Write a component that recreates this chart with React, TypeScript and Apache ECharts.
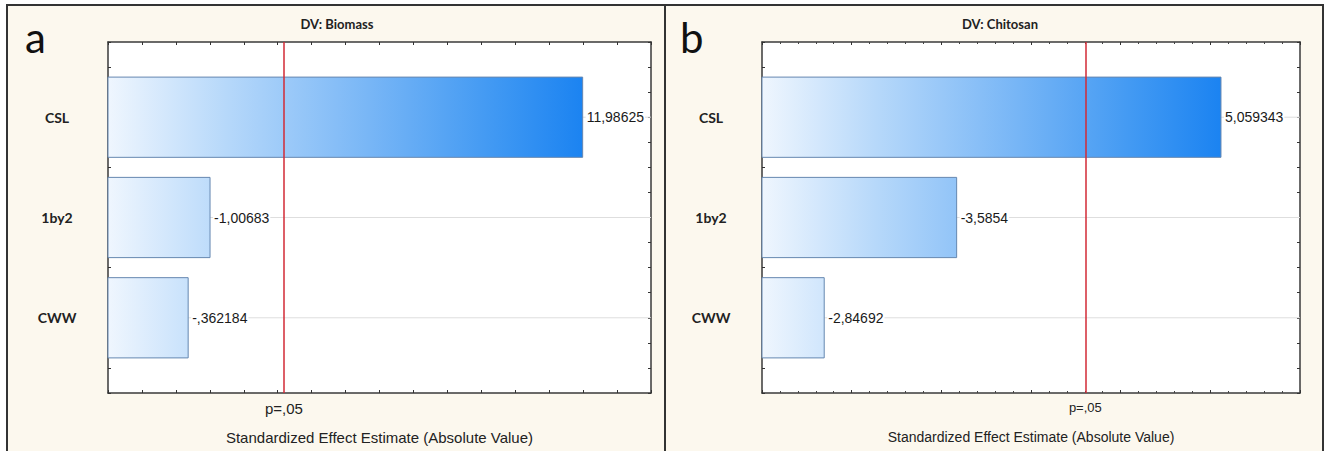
import React, { useEffect, useRef } from 'react';
import * as echarts from 'echarts';

// ---- data ----
const categories = ['CSL', '1by2', 'CWW'];
const biomassEffects = [11.98625, -1.00683, -0.362184];
const chitosanEffects = [5.059343, -3.5854, -2.84692];
const biomassCritical = 3.182; // t critical, p = .05
const chitosanCritical = 4.303;
const biomassRange = [-2, 14, 1];
const chitosanRange = [2.5, 5.5, 0.5];
const panelTitles = ['DV: Biomass', 'DV: Chitosan'];
const panelLetters = ['a', 'b'];
const axisTitle = 'Standardized Effect Estimate (Absolute Value)';
const criticalLabel = 'p=,05';

const fmt = (v: number) => String(v).replace(/^(-?)0\./, '$1.').replace('.', ',');

const gradStops = [
  { offset: 0, color: '#eff6fe' },
  { offset: 0.25, color: '#b6d8fa' },
  { offset: 0.55, color: '#78b6f6' },
  { offset: 0.8, color: '#439af3' },
  { offset: 1, color: '#1b83f1' },
];

const Y_MIN = -0.75;
const Y_MAX = 2.75;

function makeSeries(values: number[], xMin: number, crit: number, idx: number, labelSize: number) {
  const maxAbs = Math.max(...values.map((v) => Math.abs(v)));
  return {
    type: 'custom',
    xAxisIndex: idx * 2,
    yAxisIndex: idx * 2,
    data: values.map((v, i) => [Math.abs(v), i]),
    encode: { x: 0, y: 1 },
    renderItem: (params: any, api: any) => {
      const val = api.value(0);
      const i = api.value(1);
      const raw = params.dataIndex;
      const start = api.coord([xMin, i]);
      const end = api.coord([val, i]);
      const gEnd = api.coord([maxAbs, i]);
      const h = api.size([0, 0.8])[1];
      const cs = params.coordSys;
      const grad = new echarts.graphic.LinearGradient(start[0], 0, gEnd[0], 0, gradStops, true);
      return {
        type: 'group',
        children: [
          {
            type: 'line',
            shape: { x1: cs.x, y1: end[1], x2: cs.x + cs.width, y2: end[1] },
            style: { stroke: '#dedede', lineWidth: 1 },
          },
          {
            type: 'rect',
            shape: { x: start[0], y: end[1] - h / 2, width: end[0] - start[0], height: h },
            style: { fill: grad, stroke: '#6587b0', lineWidth: 1 },
          },
          {
            type: 'text',
            x: end[0] + 3,
            y: end[1],
            style: {
              text: fmt(values[raw]),
              fill: '#1a1a1a',
              fontSize: labelSize,
              fontFamily: 'Liberation Sans, Arial, sans-serif',
              align: 'left',
              verticalAlign: 'middle',
              backgroundColor: '#ffffff',
              padding: [0, 1],
            },
          },
        ],
      };
    },
    markLine: {
      silent: true,
      animation: false,
      symbol: ['none', 'none'],
      lineStyle: { color: '#d22a36', width: 1.5, type: 'solid' },
      label: {
        show: true,
        position: 'start',
        formatter: criticalLabel,
        color: '#222',
        fontSize: idx === 0 ? 15 : 13,
        fontFamily: 'Liberation Sans, Arial, sans-serif',
        distance: 8,
      },
      data: [[{ coord: [crit, Y_MAX] }, { coord: [crit, Y_MIN] }]],
    },
  };
}

function xAxes(range: number[], grid: number, nameSize: number, minor: boolean) {
  const common = {
    type: 'value',
    gridIndex: grid,
    min: range[0],
    max: range[1],
    interval: range[2],
    axisLine: { show: true, onZero: false, lineStyle: { color: '#3a3a3a', width: 1.5 } },
    axisTick: { show: true, inside: true, length: 3, lineStyle: { color: '#333', width: 1 } },
    minorTick: { show: minor, splitNumber: 5, length: 2, lineStyle: { color: '#444' } },
    axisLabel: { show: false },
    splitLine: { show: false },
    minorSplitLine: { show: false },
  };
  return [
    {
      ...common,
      position: 'bottom',
      name: axisTitle,
      nameLocation: 'middle',
      nameGap: 37,
      nameTextStyle: { color: '#222', fontSize: nameSize, fontFamily: 'Liberation Sans, Arial, sans-serif' },
    },
    { ...common, position: 'top' },
  ];
}

function yAxes(grid: number) {
  const common = {
    type: 'value',
    gridIndex: grid,
    inverse: true,
    min: Y_MIN,
    max: Y_MAX,
    interval: 0.25,
    axisLine: { show: true, onZero: false, lineStyle: { color: '#3a3a3a', width: 1.5 } },
    axisTick: { show: true, inside: true, length: 3, lineStyle: { color: '#333', width: 1 } },
    splitLine: { show: false },
  };
  return [
    {
      ...common,
      position: 'left',
      axisLabel: {
        show: true,
        showMinLabel: true,
        showMaxLabel: true,
        formatter: (v: number) => (Number.isInteger(v) && v >= 0 && v < categories.length ? categories[v] : ''),
        color: '#222',
        fontWeight: 'bold',
        fontSize: 14,
        fontFamily: 'Lato, Open Sans, sans-serif',
        align: 'center',
        margin: 51,
      },
    },
    { ...common, position: 'right', axisLabel: { show: false } },
  ];
}

export default function App() {
  const ref = useRef<HTMLDivElement>(null);
  useEffect(() => {
    if (!ref.current) return;
    const chart = echarts.init(ref.current, undefined, { renderer: 'svg' });
    const option: any = {
      animation: false,
      backgroundColor: '#ffffff',
      grid: [
        { left: 108, top: 42, width: 543, height: 351, outerBoundsMode: 'none', containLabel: false, show: true, backgroundColor: '#ffffff', borderWidth: 0 },
        { left: 762, top: 42, width: 538, height: 351, outerBoundsMode: 'none', containLabel: false, show: true, backgroundColor: '#ffffff', borderWidth: 0 },
      ],
      xAxis: [...xAxes(biomassRange, 0, 15, false), ...xAxes(chitosanRange, 1, 14, true)],
      yAxis: [...yAxes(0), ...yAxes(1)],
      series: [
        makeSeries(biomassEffects, biomassRange[0], biomassCritical, 0, 14),
        makeSeries(chitosanEffects, chitosanRange[0], chitosanCritical, 1, 14),
      ],
      graphic: [
        {
          type: 'rect',
          z: -10,
          shape: { x: 7, y: 5, width: 658, height: 460 },
          style: { fill: '#fcf8ee', stroke: '#333', lineWidth: 2 },
        },
        {
          type: 'rect',
          z: -10,
          shape: { x: 665, y: 5, width: 658, height: 460 },
          style: { fill: '#fcf8ee', stroke: '#333', lineWidth: 2 },
        },
        {
          type: 'text',
          x: 25,
          y: 37,
          style: { text: panelLetters[0], fill: '#111', fontSize: 42, fontFamily: 'Lato, Open Sans, sans-serif', verticalAlign: 'middle' },
        },
        {
          type: 'text',
          x: 680,
          y: 37,
          style: { text: panelLetters[1], fill: '#111', fontSize: 42, fontFamily: 'Lato, Open Sans, sans-serif', verticalAlign: 'middle' },
        },
        {
          type: 'text',
          x: 337,
          y: 24,
          style: { text: panelTitles[0], fill: '#222', fontSize: 13, fontWeight: 'bold', fontFamily: 'Lato, Open Sans, sans-serif', align: 'center', verticalAlign: 'middle' },
        },
        {
          type: 'text',
          x: 1000,
          y: 24,
          style: { text: panelTitles[1], fill: '#222', fontSize: 13, fontWeight: 'bold', fontFamily: 'Lato, Open Sans, sans-serif', align: 'center', verticalAlign: 'middle' },
        },
      ],
    };
    chart.setOption(option);
    return () => chart.dispose();
  }, []);
  return (
    <div
      ref={ref}
      style={{ position: 'absolute', left: 0, top: 0, width: 1327, height: 451 }}
    />
  );
}
